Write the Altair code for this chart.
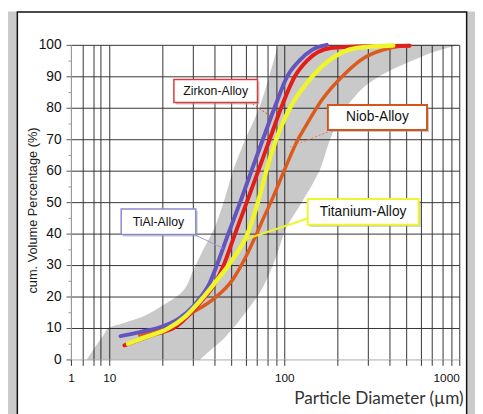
import math
import altair as alt
import pandas as pd

# ---------------- data ----------------
# grey reference band: cumulative percentage -> lower / upper particle diameter (µm)
band_pct = [0, 3, 6, 8, 10, 11.5, 13, 17.5, 21, 28.5, 35, 41, 50, 60, 70, 80, 90, 95, 98, 100]
band_lo = [2.6, 3.8, 5.6, 7.3, 9.5, 12, 14.5, 20.6, 25.5, 30.3, 34.5, 39.3, 45, 51, 60, 72, 82, 87, 90, 92]
band_hi = [33, 38, 44, 47.5, 51, 54, 56.5, 65, 72, 84, 93, 101, 126, 159, 183, 225, 350, 540, 740, 1000]

# measured alloy curves: diameter (µm) and cumulative volume percentage
tial_d = [11.6, 15, 20.6, 25, 30.3, 34, 37.5, 41.2, 47.9, 56, 65, 75.5, 88, 104, 122, 145, 175]
tial_p = [7.4, 8.7, 10.7, 13, 17, 20.5, 24.3, 30, 40, 50, 60, 70, 80, 90, 95, 98.5, 100]

zirkon_d = [12.2, 17.3, 24.4, 33, 40.5, 45.1, 52.4, 61.1, 71.1, 82.6, 96, 115, 135, 185, 300, 520]
zirkon_p = [4.5, 7.6, 10.7, 18, 24.5, 30, 40, 50, 60, 70, 80, 90, 95, 99, 99.6, 99.7]

titan_d = [12.8, 16, 21.5, 27, 33, 41, 51, 61.7, 72, 79, 90, 108, 145, 180, 260, 420]
titan_p = [5, 7, 9.7, 13.5, 18.6, 25, 32, 40, 51.5, 60, 70, 80, 90, 95, 99, 99.8]

niob_d = [14.9, 21.4, 30, 39, 50.8, 60.4, 68.3, 76.2, 86.2, 100.7, 119.9, 132.1, 163.1, 220.1, 285.1, 402.8, 521.8]
niob_p = [7.8, 10.7, 15, 19, 25.4, 32.7, 39, 45, 51.5, 60.5, 70, 74, 82.3, 90.6, 95.8, 99, 99.8]

# annotation labels (box corners and leader lines in data units)
labels = ["Zirkon-Alloy", "Niob-Alloy", "Titanium-Alloy", "TiAl-Alloy"]
box_x1 = [23.4, 177.5, 136, 11.7]
box_x2 = [70.3, 654, 586, 31.2]
box_y1 = [81.7, 72.9, 42.8, 39.7]
box_y2 = [89.0, 80.9, 51.0, 47.8]
lead_x1 = [65.9, 177.5, 136, 31.2]
lead_y1 = [81.2, 72.3, 44.8, 39.5]
lead_x2 = [85.3, 108, 61.7, 44.7]
lead_y2 = [77.0, 67.6, 38.4, 35.3]

x_ticks = [1, 2, 4, 6, 10, 20, 30, 40, 50, 60, 70, 80, 90,
           100, 200, 300, 400, 500, 600, 700, 800, 900, 1000]
x_labels = [1, 10, 100, 1000]
y_ticks = list(range(0, 101, 5))

# ---------------- styles ----------------
COL = {
    "TiAl-Alloy": "#6455be",
    "Zirkon-Alloy": "#e11e19",
    "Titanium-Alloy": "#eef52a",
    "Niob-Alloy": "#dc5a1e",
}
BOX_STROKE = {
    "Zirkon-Alloy": ("#dd3b3b", 1.5),
    "Niob-Alloy": ("#d4561c", 2),
    "Titanium-Alloy": ("#eef52a", 2),
    "TiAl-Alloy": ("#8a8acc", 1.5),
}
LEAD = {
    "Zirkon-Alloy": ("#e05050", 1, [2, 2]),
    "Niob-Alloy": ("#e0804a", 1, [2, 2]),
    "Titanium-Alloy": ("#eef52a", 2, []),
    "TiAl-Alloy": ("#9a9ad4", 1, []),
}
FSIZE = {"Zirkon-Alloy": 12.5, "Niob-Alloy": 14, "Titanium-Alloy": 14, "TiAl-Alloy": 12.5}
FONT = "Liberation Sans"
W, H = 395, 320

xscale = alt.Scale(type="log", domain=[1, 10, 1000], range=[0, 39, W], nice=False)
yscale = alt.Scale(domain=[0, 100], nice=False, zero=False)

x_axis = alt.Axis(
    title="Particle Diameter (µm)",
    values=x_ticks,
    labelExpr="indexof(%s, datum.value) >= 0 ? '' + datum.value : ''" % str(x_labels),
    labelAlign={"condition": {"test": "datum.value == 1000", "value": "right"}, "value": "center"},
    labelOverlap=False,
    labelFont=FONT, labelFontSize=12, labelColor="#111", labelPadding=7,
    grid=True,
    gridColor={"condition": {"test": "datum.value == 1", "value": "#999"}, "value": "#333"},
    gridWidth=1,
    ticks=True, tickSize=6, tickColor="#333",
    domain=False,
    titleFont="Lato", titleFontSize=17.5, titleFontWeight="normal", titleColor="#333",
    titleX=399, titleY=45, titleAlign="right", titleBaseline="alphabetic",
)
y_axis = alt.Axis(
    title="cum. Volume Percentage (%)",
    values=y_ticks,
    labelExpr="datum.value % 10 == 0 ? '' + datum.value : ''",
    labelFont=FONT, labelFontSize=14, labelColor="#111", labelPadding=5,
    grid=True,
    gridOpacity={"condition": {"test": "datum.value % 10 != 0", "value": 0}, "value": 1},
    gridColor={"condition": {"test": "datum.value == 0", "value": "#aaa"}, "value": "#333"},
    ticks=True,
    tickSize={"condition": {"test": "datum.value % 10 != 0", "value": 3}, "value": 5},
    tickColor={"condition": {"test": "datum.value % 10 != 0", "value": "#999"}, "value": "#555"},
    domain=True, domainColor="#999",
    titleFont=FONT, titleFontSize=13, titleFontWeight="normal", titleColor="#222",
    titleX=-35, titleY=168, titleAngle=270, titleAlign="center", titleBaseline="alphabetic",
)

one = pd.DataFrame({"k": [0]})

# page frame (decoration only)
frame_left = alt.Chart(one).mark_rect(fill="#cbcbcb").encode(
    x=alt.value(-64), x2=alt.value(-54.5), y=alt.value(-34), y2=alt.value(380))
frame_right = alt.Chart(one).mark_rect(fill="#cbcbcb").encode(
    x=alt.value(402.5), x2=alt.value(412), y=alt.value(-34), y2=alt.value(380))
frame_border = alt.Chart(one).mark_rect(fill="transparent", stroke="#111", strokeWidth=1.5).encode(
    x=alt.value(-54.5), x2=alt.value(402.5), y=alt.value(-33.5), y2=alt.value(420))

band_df = pd.DataFrame({"pct": band_pct, "lo": band_lo, "hi": band_hi})
band = alt.Chart(band_df).mark_area(orient="horizontal", fill="#000", fillOpacity=0.21,
                                    interpolate="monotone").encode(
    y=alt.Y("pct:Q", scale=yscale, axis=y_axis),
    x=alt.X("lo:Q", scale=xscale, axis=x_axis, stack=None),
    x2="hi:Q",
)

series = [
    ("Niob-Alloy", niob_d, niob_p, 3.5),
    ("TiAl-Alloy", tial_d, tial_p, 4),
    ("Zirkon-Alloy", zirkon_d, zirkon_p, 4),
    ("Titanium-Alloy", titan_d, titan_p, 4.5),
]
lines = []
for name, d, p, sw in series:
    df = pd.DataFrame({"d": d, "p": p, "i": range(len(d))})
    lines.append(
        alt.Chart(df).mark_line(color=COL[name], strokeWidth=sw, interpolate="monotone",
                                strokeCap="round").encode(
            x=alt.X("d:Q", scale=xscale, axis=x_axis),
            y=alt.Y("p:Q", scale=yscale, axis=y_axis),
            order="i:Q",
        )
    )

ann = []
for i, name in enumerate(labels):
    lc, lw, ld = LEAD[name]
    ldf = pd.DataFrame({"x1": [lead_x1[i]], "y1": [lead_y1[i]], "x2": [lead_x2[i]], "y2": [lead_y2[i]]})
    rule_kw = dict(color=lc, strokeWidth=lw)
    if ld:
        rule_kw["strokeDash"] = ld
    ann.append(alt.Chart(ldf).mark_rule(**rule_kw).encode(
        x=alt.X("x1:Q", scale=xscale, axis=x_axis), x2="x2:Q",
        y=alt.Y("y1:Q", scale=yscale, axis=y_axis), y2="y2:Q"))
for i, name in enumerate(labels):
    bc, bw = BOX_STROKE[name]
    bdf = pd.DataFrame({"x1": [box_x1[i]], "x2": [box_x2[i]], "y1": [box_y1[i]], "y2": [box_y2[i]],
                        "tx": [math.sqrt(box_x1[i] * box_x2[i])],
                        "ty": [(box_y1[i] + box_y2[i]) / 2], "t": [name]})
    enc = dict(x=alt.X("x1:Q", scale=xscale, axis=x_axis), x2="x2:Q",
               y=alt.Y("y1:Q", scale=yscale, axis=y_axis), y2="y2:Q")
    ann.append(alt.Chart(bdf).mark_rect(fill="#9a9a9a", opacity=0.55, xOffset=2, yOffset=2,
                                        x2Offset=2, y2Offset=2).encode(**enc))
    ann.append(alt.Chart(bdf).mark_rect(fill="white", stroke=bc, strokeWidth=bw).encode(**enc))
    ann.append(alt.Chart(bdf).mark_text(font=FONT, fontSize=FSIZE[name], color="#111",
                                        baseline="middle", align="center").encode(
        x=alt.X("tx:Q", scale=xscale, axis=x_axis),
        y=alt.Y("ty:Q", scale=yscale, axis=y_axis),
        text="t:N"))

chart = alt.layer(band, *lines, *ann, frame_left, frame_right, frame_border).properties(
    width=W, height=H,
    padding={"left": 64, "top": 34, "right": 16, "bottom": 52},
    autosize=alt.AutoSizeParams(type="none"),
).configure(background="white").configure_view(stroke=None)

chart.save("out.html", embed_options={"renderer": "svg", "actions": False})
